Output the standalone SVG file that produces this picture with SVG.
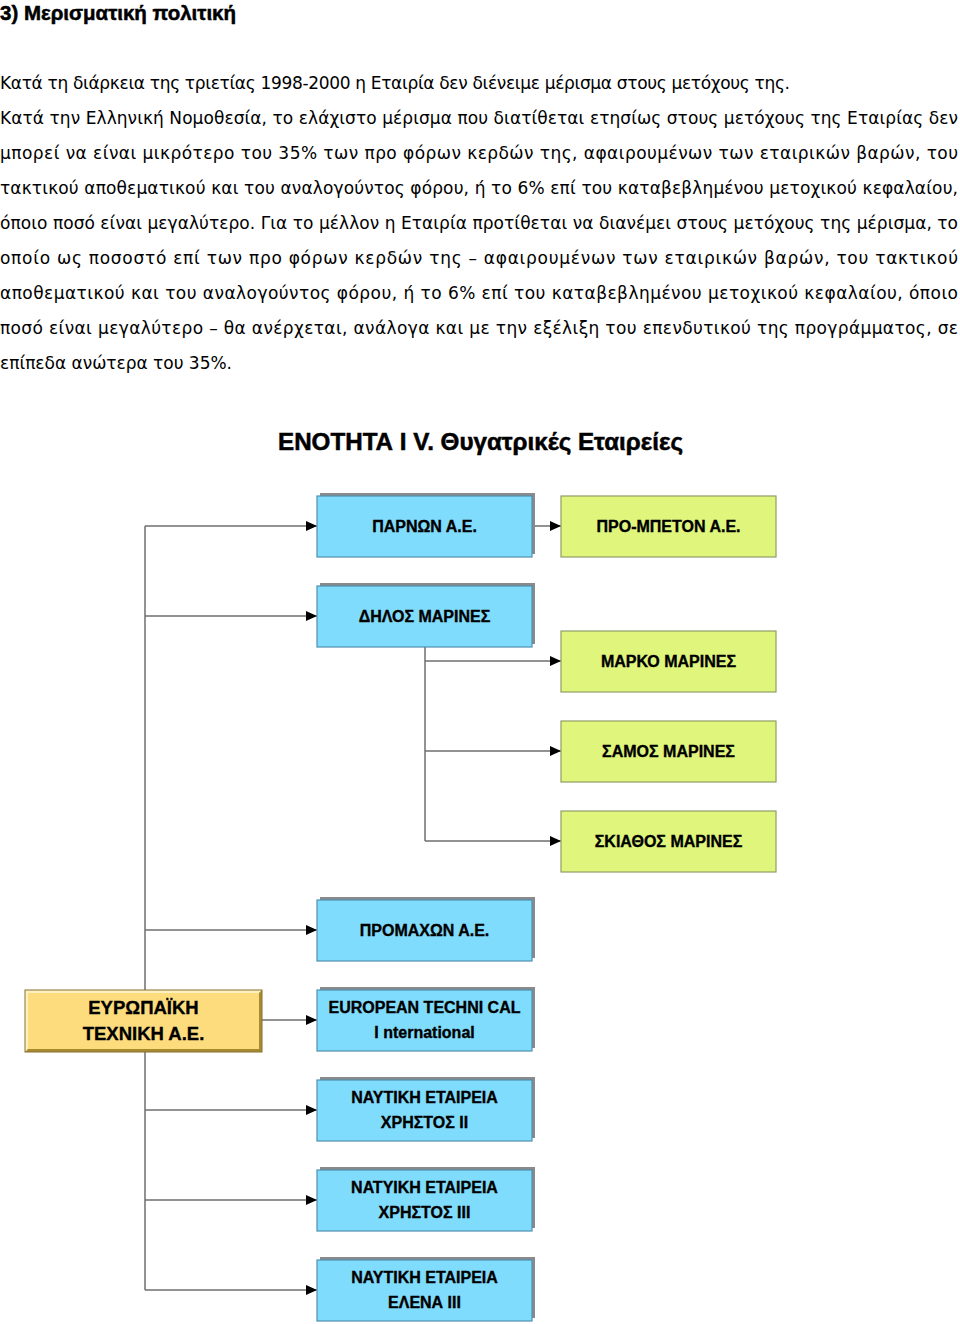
<svg xmlns="http://www.w3.org/2000/svg" width="960" height="1324" viewBox="0 0 960 1324">
<style>
.body{font-family:"DejaVu Sans","Liberation Sans",sans-serif;font-size:17px;fill:#000}
.h{font-family:"Liberation Sans","DejaVu Sans",sans-serif;font-weight:bold;fill:#000;stroke:#000;stroke-width:0.5}
.t{font-family:"Liberation Sans","DejaVu Sans",sans-serif;font-weight:bold;font-size:16px;fill:#000;text-anchor:middle;stroke:#000;stroke-width:0.35}
.big{font-size:18.5px}
.shadow{fill:#8a8a8a}
.blue{fill:#80dcfc;stroke:#4f8fb0;stroke-width:1.2}
.green{fill:#dff57c;stroke:#8f9e66;stroke-width:1.2}
.conn{stroke:#6e6e6e;stroke-width:1.5;fill:none}
</style>
<defs>
<marker id="arr" markerUnits="userSpaceOnUse" markerWidth="12" markerHeight="11" refX="11" refY="5" orient="auto">
<path d="M0,0 L11,5 L0,10 z" fill="#000"/>
</marker>
</defs>
<rect width="960" height="1324" fill="#fff"/>

<g id="text">
<text class="h" x="0" y="20" font-size="20" textLength="236" lengthAdjust="spacingAndGlyphs">3) Μερισματική πολιτική</text>
<text class="body" x="0" y="89" textLength="790" lengthAdjust="spacing">Κατά τη διάρκεια της τριετίας 1998-2000 η Εταιρία δεν διένειμε μέρισμα στους μετόχους της.</text>
<text class="body" x="0" y="124" textLength="958" lengthAdjust="spacing">Κατά την Ελληνική Νομοθεσία, το ελάχιστο μέρισμα που διατίθεται ετησίως στους μετόχους της Εταιρίας δεν</text>
<text class="body" x="0" y="159" textLength="958" lengthAdjust="spacing">μπορεί να είναι μικρότερο του 35% των προ φόρων κερδών της, αφαιρουμένων των εταιρικών βαρών, του</text>
<text class="body" x="0" y="194" textLength="958" lengthAdjust="spacing">τακτικού αποθεματικού και του αναλογούντος φόρου, ή το 6% επί του καταβεβλημένου μετοχικού κεφαλαίου,</text>
<text class="body" x="0" y="229" textLength="958" lengthAdjust="spacing">όποιο ποσό είναι μεγαλύτερο. Για το μέλλον η Εταιρία προτίθεται να διανέμει στους μετόχους της μέρισμα, το</text>
<text class="body" x="0" y="264" textLength="958" lengthAdjust="spacing">οποίο ως ποσοστό επί των προ φόρων κερδών της – αφαιρουμένων των εταιρικών βαρών, του τακτικού</text>
<text class="body" x="0" y="299" textLength="958" lengthAdjust="spacing">αποθεματικού και του αναλογούντος φόρου, ή το 6% επί του καταβεβλημένου μετοχικού κεφαλαίου, όποιο</text>
<text class="body" x="0" y="334" textLength="958" lengthAdjust="spacing">ποσό είναι μεγαλύτερο – θα ανέρχεται, ανάλογα και με την εξέλιξη του επενδυτικού της προγράμματος, σε</text>
<text class="body" x="0" y="369" textLength="232" lengthAdjust="spacing">επίπεδα ανώτερα του 35%.</text>
<text class="h" x="278" y="450" font-size="23" textLength="405" lengthAdjust="spacingAndGlyphs">ΕΝΟΤΗΤΑ I V. Θυγατρικές Εταιρείες</text>
</g>

<g id="connectors">
<path class="conn" d="M145,526 V1290"/>
<path class="conn" d="M145,526 H317" marker-end="url(#arr)"/>
<path class="conn" d="M145,616 H317" marker-end="url(#arr)"/>
<path class="conn" d="M145,930 H317" marker-end="url(#arr)"/>
<path class="conn" d="M262,1020 H317" marker-end="url(#arr)"/>
<path class="conn" d="M145,1110 H317" marker-end="url(#arr)"/>
<path class="conn" d="M145,1200 H317" marker-end="url(#arr)"/>
<path class="conn" d="M145,1290 H317" marker-end="url(#arr)"/>
<path class="conn" d="M532,526 H561" marker-end="url(#arr)"/>
<path class="conn" d="M425,647 V841"/>
<path class="conn" d="M425,661 H561" marker-end="url(#arr)"/>
<path class="conn" d="M425,751 H561" marker-end="url(#arr)"/>
<path class="conn" d="M425,841 H561" marker-end="url(#arr)"/>
</g>

<g id="parnon">
<rect class="shadow" x="320" y="493" width="215" height="61"/>
<rect class="blue" x="317" y="496" width="215" height="61"/>
<text class="t" x="424.5" y="532">ΠΑΡΝΩΝ Α.Ε.</text>
</g>
<g id="pro-beton">
<rect class="green" x="561" y="496" width="215" height="61"/>
<text class="t" x="668.5" y="532">ΠΡΟ-ΜΠΕΤΟΝ Α.Ε.</text>
</g>
<g id="dilos">
<rect class="shadow" x="320" y="583" width="215" height="61"/>
<rect class="blue" x="317" y="586" width="215" height="61"/>
<text class="t" x="424.5" y="622">ΔΗΛΟΣ ΜΑΡΙΝΕΣ</text>
</g>
<g id="marko">
<rect class="green" x="561" y="631" width="215" height="61"/>
<text class="t" x="668.5" y="667">ΜΑΡΚΟ ΜΑΡΙΝΕΣ</text>
</g>
<g id="samos">
<rect class="green" x="561" y="721" width="215" height="61"/>
<text class="t" x="668.5" y="757">ΣΑΜΟΣ ΜΑΡΙΝΕΣ</text>
</g>
<g id="skiathos">
<rect class="green" x="561" y="811" width="215" height="61"/>
<text class="t" x="668.5" y="847">ΣΚΙΑΘΟΣ ΜΑΡΙΝΕΣ</text>
</g>
<g id="promachon">
<rect class="shadow" x="320" y="897" width="215" height="61"/>
<rect class="blue" x="317" y="900" width="215" height="61"/>
<text class="t" x="424.5" y="936">ΠΡΟΜΑΧΩΝ Α.Ε.</text>
</g>
<g id="evropaiki">
<rect x="25" y="990" width="237" height="62" fill="#fddc7e"/>
<path d="M25,990 H262 L259,993 H28 V1049 L25,1052 z" fill="#fff0c0"/>
<path d="M262,990 V1052 H25 L28,1049 H259 V993 z" fill="#a88a30"/>
<rect x="25" y="990" width="237" height="62" fill="none" stroke="#8a7030" stroke-width="1"/>
<text class="t big" x="143.5" y="1014">ΕΥΡΩΠΑΪΚΗ</text>
<text class="t big" x="143.5" y="1040">ΤΕΧΝΙΚΗ Α.Ε.</text>
</g>
<g id="european">
<rect class="shadow" x="320" y="987" width="215" height="61"/>
<rect class="blue" x="317" y="990" width="215" height="61"/>
<text class="t" x="424.5" y="1013">EUROPEAN TECHNI CAL</text>
<text class="t" x="424.5" y="1038">I nternational</text>
</g>
<g id="christos2">
<rect class="shadow" x="320" y="1077" width="215" height="61"/>
<rect class="blue" x="317" y="1080" width="215" height="61"/>
<text class="t" x="424.5" y="1103">ΝΑΥΤΙΚΗ ΕΤΑΙΡΕΙΑ</text>
<text class="t" x="424.5" y="1128">ΧΡΗΣΤΟΣ ΙΙ</text>
</g>
<g id="christos3">
<rect class="shadow" x="320" y="1167" width="215" height="61"/>
<rect class="blue" x="317" y="1170" width="215" height="61"/>
<text class="t" x="424.5" y="1193">ΝΑΤΥΙΚΗ ΕΤΑΙΡΕΙΑ</text>
<text class="t" x="424.5" y="1218">ΧΡΗΣΤΟΣ ΙΙΙ</text>
</g>
<g id="elena3">
<rect class="shadow" x="320" y="1257" width="215" height="61"/>
<rect class="blue" x="317" y="1260" width="215" height="61"/>
<text class="t" x="424.5" y="1283">ΝΑΥΤΙΚΗ ΕΤΑΙΡΕΙΑ</text>
<text class="t" x="424.5" y="1308">ΕΛΕΝΑ ΙΙΙ</text>
</g>
</svg>
